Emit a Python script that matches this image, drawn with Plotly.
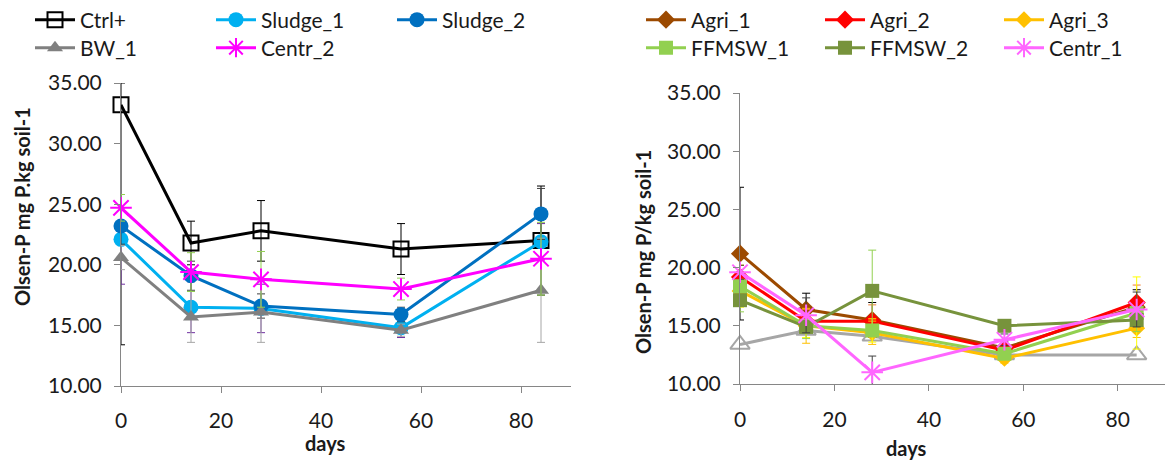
import plotly.graph_objects as go

days = [0, 14, 28, 56, 84]

# Left panel
ctrl_plus = [33.2, 21.8, 22.8, 21.3, 22.0]
ctrl_plus_err_up = [1.8, 1.8, 2.5, 2.1, 4.5]
ctrl_plus_err_dn = [19.8, 1.8, 2.5, 2.1, 4.5]
sludge_1 = [22.1, 16.5, 16.4, 14.8, 21.9]
sludge_1_err = [3.7, 2.1, 2.0, 0.8, 1.5]
sludge_2 = [23.2, 19.1, 16.6, 15.9, 24.2]
sludge_2_err = [1.5, 1.2, 1.0, 0.6, 2.1]
bw_1 = [20.6, 15.7, 16.1, 14.6, 17.9]
bw_1_err = [1.0, 2.1, 2.5, 0.5, 4.3]
centr_2 = [24.7, 19.4, 18.8, 18.0, 20.5]
centr_2_err = [1.1, 1.6, 2.3, 0.9, 3.0]

# Right panel
agri_1 = [21.2, 16.4, 15.5, 13.1, 16.6]
agri_1_err = [5.7, 1.4, 1.5, 0.6, 1.5]
agri_2 = [19.2, 15.4, 15.4, 12.9, 17.0]
agri_2_err = [1.0, 1.0, 1.4, 0.5, 1.5]
agri_3 = [18.0, 15.0, 14.4, 12.2, 14.8]
agri_3_err = [1.0, 1.5, 1.0, 0.4, 0.8]
ffmsw_1 = [18.4, 15.0, 14.6, 12.6, 16.1]
ffmsw_1_err = [1.8, 1.0, 1.0, 0.5, 3.1]
ffmsw_2 = [17.2, 14.9, 18.0, 15.0, 15.5]
ffmsw_2_err = [1.0, 1.0, 3.5, 0.5, 1.0]
centr_1 = [19.6, 15.9, 11.0, 13.8, 16.4]
centr_1_err = [0.6, 1.5, 1.4, 0.5, 1.5]
ctrl_minus = [13.4, 14.6, 14.1, 12.5, 12.5]

y_ticks = [10, 15, 20, 25, 30, 35]
y_tick_labels = ["10.00", "15.00", "20.00", "25.00", "30.00", "35.00"]
x_ticks = [0, 20, 40, 60, 80]

FONT = "Lato"
fig = go.Figure()


def add(name, y, color, symbol, size, xa, ya, legend, err=None, err_dn=None,
        err_color=None, showlegend=True, mline=None):
    marker = dict(symbol=symbol, size=size, color=color)
    if mline is not None:
        marker["line"] = dict(color=color, width=mline)
    kw = {}
    if err is not None:
        kw["error_y"] = dict(type="data", array=err,
                             arrayminus=err_dn if err_dn is not None else err,
                             symmetric=False, color=err_color or color,
                             thickness=1, width=4)
    fig.add_trace(go.Scatter(
        x=days, y=y, name=name, mode="lines+markers",
        line=dict(color=color, width=3), marker=marker,
        xaxis=xa, yaxis=ya, legend=legend, showlegend=showlegend,
        cliponaxis=False, **kw))


# Left panel traces
add("Ctrl+", ctrl_plus, "#000000", "square-open", 15, "x", "y", "legend",
    ctrl_plus_err_up, ctrl_plus_err_dn, "#000000", mline=2)
add("Sludge_1", sludge_1, "#00B0F0", "circle", 15, "x", "y", "legend",
    sludge_1_err, None, "#7030A0")
add("Sludge_2", sludge_2, "#0070C0", "circle", 15, "x", "y", "legend",
    sludge_2_err, None, "#404040")
add("BW_1", bw_1, "#808080", "triangle-up", 14, "x", "y", "legend2",
    bw_1_err, None, "#A6A6A6")
add("Centr_2", centr_2, "#FF00FF", "asterisk-open", 18, "x", "y", "legend2",
    centr_2_err, None, "#92D050", mline=2)

# Right panel traces
add("Ctrl-", ctrl_minus, "#A6A6A6", "triangle-up-open", 17, "x2", "y2",
    "legend3", showlegend=False, mline=2)
add("Agri_1", agri_1, "#9C4A00", "diamond", 14, "x2", "y2", "legend3",
    agri_1_err, None, "#000000")
add("Agri_2", agri_2, "#FF0000", "diamond", 14, "x2", "y2", "legend3",
    agri_2_err, None, "#ED7D31")
add("Agri_3", agri_3, "#FFC000", "diamond", 13, "x2", "y2", "legend3",
    agri_3_err, None, "#FFC000")
add("FFMSW_1", ffmsw_1, "#92D050", "square", 14, "x2", "y2", "legend4",
    ffmsw_1_err, None, "#FFFF00")
add("FFMSW_2", ffmsw_2, "#77933C", "square", 14, "x2", "y2", "legend4",
    ffmsw_2_err, None, "#92D050")
add("Centr_1", centr_1, "#FF66FF", "asterisk-open", 18, "x2", "y2", "legend4",
    centr_1_err, None, "#404040", mline=2)

W, H = 1167, 464


def px(x):
    return x / W


def py(y):
    return 1 - y / H


axis_common = dict(showline=True, linecolor="#868686", linewidth=1,
                   ticks="outside", ticklen=6, tickcolor="#868686",
                   showgrid=False, zeroline=False,
                   tickfont=dict(family=FONT, size=21, color="#1a1a1a"),
                   automargin=False)

fig.update_layout(
    width=W, height=H,
    margin=dict(l=0, r=0, t=0, b=0, autoexpand=False),
    paper_bgcolor="white", plot_bgcolor="white",
    font=dict(family=FONT, color="#1a1a1a"),
    xaxis=dict(domain=[px(121), px(571)], range=[0, 90], tickvals=x_ticks,
               anchor="y", ticklabelstandoff=10, **axis_common),
    yaxis=dict(domain=[py(386), py(83)], range=[10, 35], tickvals=y_ticks,
               ticktext=y_tick_labels, anchor="x", ticklabelstandoff=8,
               **axis_common),
    xaxis2=dict(domain=[px(740), px(1165)], range=[0, 90], tickvals=x_ticks,
                anchor="y2", ticklabelstandoff=11, **axis_common),
    yaxis2=dict(domain=[py(384), py(93)], range=[10, 35], tickvals=y_ticks,
                ticktext=y_tick_labels, anchor="x2", ticklabelstandoff=8,
                **axis_common),
)

leg_common = dict(orientation="h", xanchor="left", yanchor="middle",
                  entrywidth=126, entrywidthmode="pixels", itemwidth=40,
                  font=dict(family=FONT, size=21, color="#1a1a1a"),
                  bgcolor="rgba(0,0,0,0)", tracegroupgap=0)
fig.update_layout(
    legend=dict(x=px(30), y=py(20), **leg_common),
    legend2=dict(x=px(30), y=py(48), **leg_common),
    legend3=dict(x=px(641), y=py(20), **{**leg_common, "entrywidth": 124}),
    legend4=dict(x=px(641), y=py(48), **{**leg_common, "entrywidth": 124}),
)

title_font = dict(family=FONT, size=20, color="#1a1a1a", weight="bold")
ann = dict(xref="paper", yref="paper", showarrow=False, font=title_font,
           xanchor="center", yanchor="middle")
fig.add_annotation(text="Olsen-P mg P.kg soil-1", textangle=-90,
                   x=px(22), y=py(207), **ann)
fig.add_annotation(text="Olsen-P mg P/kg soil-1", textangle=-90,
                   x=px(643), y=py(252), **ann)
fig.add_annotation(text="days", x=px(325), y=py(443), **ann)
fig.add_annotation(text="days", x=px(906), y=py(448), **ann)

fig.write_html("out.html")
